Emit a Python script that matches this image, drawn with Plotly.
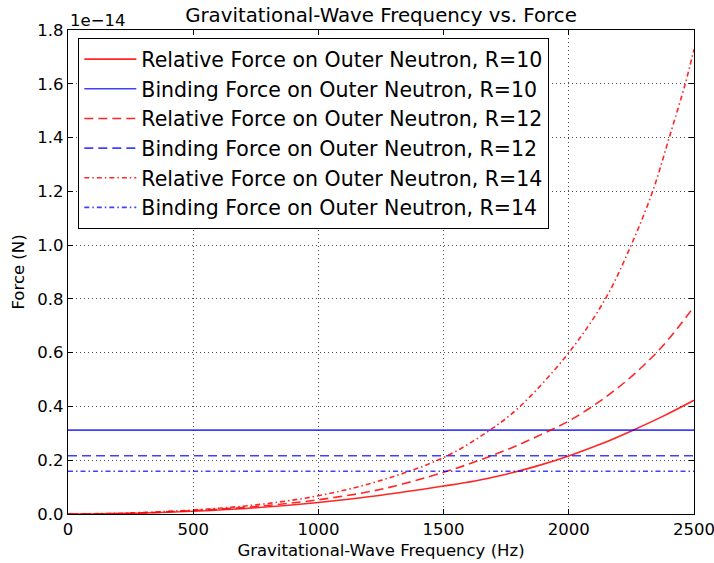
import plotly.graph_objects as go

# Forces in units of 1e-14 N
freq_common = [0, 250, 500, 750, 1000, 1250, 1500, 1625, 1750, 1875, 2000, 2125, 2250, 2375, 2500]
rel_r10 = [0.0, 0.002, 0.010, 0.023, 0.043, 0.070, 0.104, 0.123, 0.148, 0.179, 0.216, 0.259, 0.309, 0.363, 0.423]
rel_r12 = [0.0, 0.003, 0.013, 0.028, 0.053, 0.092, 0.155, 0.194, 0.238, 0.289, 0.346, 0.420, 0.511, 0.625, 0.771]

freq_r14 = [0, 250, 500, 750, 1000, 1250, 1500, 1685, 1805, 2000, 2146, 2249, 2335, 2401, 2465, 2500]
rel_r14 = [0.0, 0.004, 0.015, 0.034, 0.068, 0.125, 0.210, 0.312, 0.400, 0.600, 0.800, 1.000, 1.200, 1.400, 1.600, 1.728]

freq_span = [0, 2500]
bind_r10 = 0.312
bind_r12 = 0.2167
bind_r14 = 0.1592

names = [
    "Relative Force on Outer Neutron, R=10",
    "Binding Force on Outer Neutron, R=10",
    "Relative Force on Outer Neutron, R=12",
    "Binding Force on Outer Neutron, R=12",
    "Relative Force on Outer Neutron, R=14",
    "Binding Force on Outer Neutron, R=14",
]

yticks = [0.0, 0.2, 0.4, 0.6, 0.8, 1.0, 1.2, 1.4, 1.6, 1.8]
xticks = [0, 500, 1000, 1500, 2000, 2500]

RED = "rgba(255,0,0,0.85)"
BLUE = "rgba(0,0,255,0.75)"
DASH = "9px,5px"
DASHDOT = "5px,3px,1.5px,3px"

FONT = "DejaVu Sans, Liberation Sans, sans-serif"

fig = go.Figure()
series = [
    (freq_common, rel_r10, RED, "solid", True),
    (freq_span, [bind_r10, bind_r10], BLUE, "solid", False),
    (freq_common, rel_r12, RED, DASH, True),
    (freq_span, [bind_r12, bind_r12], BLUE, DASH, False),
    (freq_r14, rel_r14, RED, DASHDOT, True),
    (freq_span, [bind_r14, bind_r14], BLUE, DASHDOT, False),
]
for i, (x, y, c, d, smooth) in enumerate(series):
    fig.add_trace(go.Scatter(
        x=x, y=y, mode="lines", name=names[i],
        line=dict(color=c, width=1.6, dash=d, shape="spline" if smooth else "linear", smoothing=1.0),
    ))

axis_common = dict(
    showline=True, linecolor="black", linewidth=1.3, mirror="allticks",
    ticks="inside", ticklen=5, tickcolor="black", tickwidth=1,
    showgrid=True, gridcolor="rgba(0,0,0,0.7)", gridwidth=1, griddash="1px,3px",
    zeroline=False, automargin=False, ticklabeloverflow="allow",
    tickfont=dict(family=FONT, size=16.5, color="black"),
)

fig.update_layout(
    width=714, height=563,
    margin=dict(l=68, r=20, t=30, b=49),
    paper_bgcolor="white", plot_bgcolor="white",
    font=dict(family=FONT, size=16.5, color="black"),
    title=dict(text="Gravitational-Wave Frequency vs. Force", x=0.5, xref="paper",
               y=1 - 15 / 563, yref="container", yanchor="middle", xanchor="center",
               font=dict(family=FONT, size=19.8, color="black")),
    xaxis=dict(range=[0, 2500], tickvals=xticks, ticktext=[str(v) for v in xticks],
               title=dict(text="Gravitational-Wave Frequency (Hz)", standoff=6,
                          font=dict(family=FONT, size=16.5)), **axis_common),
    yaxis=dict(range=[0, 1.8], tickvals=yticks, ticktext=[f"{v:.1f}" for v in yticks],
               title=dict(text="Force (N)", standoff=8, font=dict(family=FONT, size=16.5)),
               **axis_common),
    legend=dict(x=0.016, y=(514 - 38) / 484, xanchor="left", yanchor="top",
                bordercolor="black", borderwidth=1.3, bgcolor="white",
                font=dict(family=FONT, size=20.5, color="black"),
                traceorder="normal", itemwidth=52),
    annotations=[dict(text="1e\u221214", x=0, y=1, xref="paper", yref="paper",
                      xanchor="left", yanchor="bottom", showarrow=False, yshift=-2,
                      font=dict(family=FONT, size=16.5, color="black"))],
)

fig.write_html("out.html", config={"displayModeBar": False})

# remove the default page margin so the figure sits at the window's top-left corner
with open("out.html", "r", encoding="utf-8") as fh:
    html = fh.read()
html = html.replace("<head>", "<head><style>html,body{margin:0;padding:0;overflow:hidden;}</style>", 1)
with open("out.html", "w", encoding="utf-8") as fh:
    fh.write(html)
